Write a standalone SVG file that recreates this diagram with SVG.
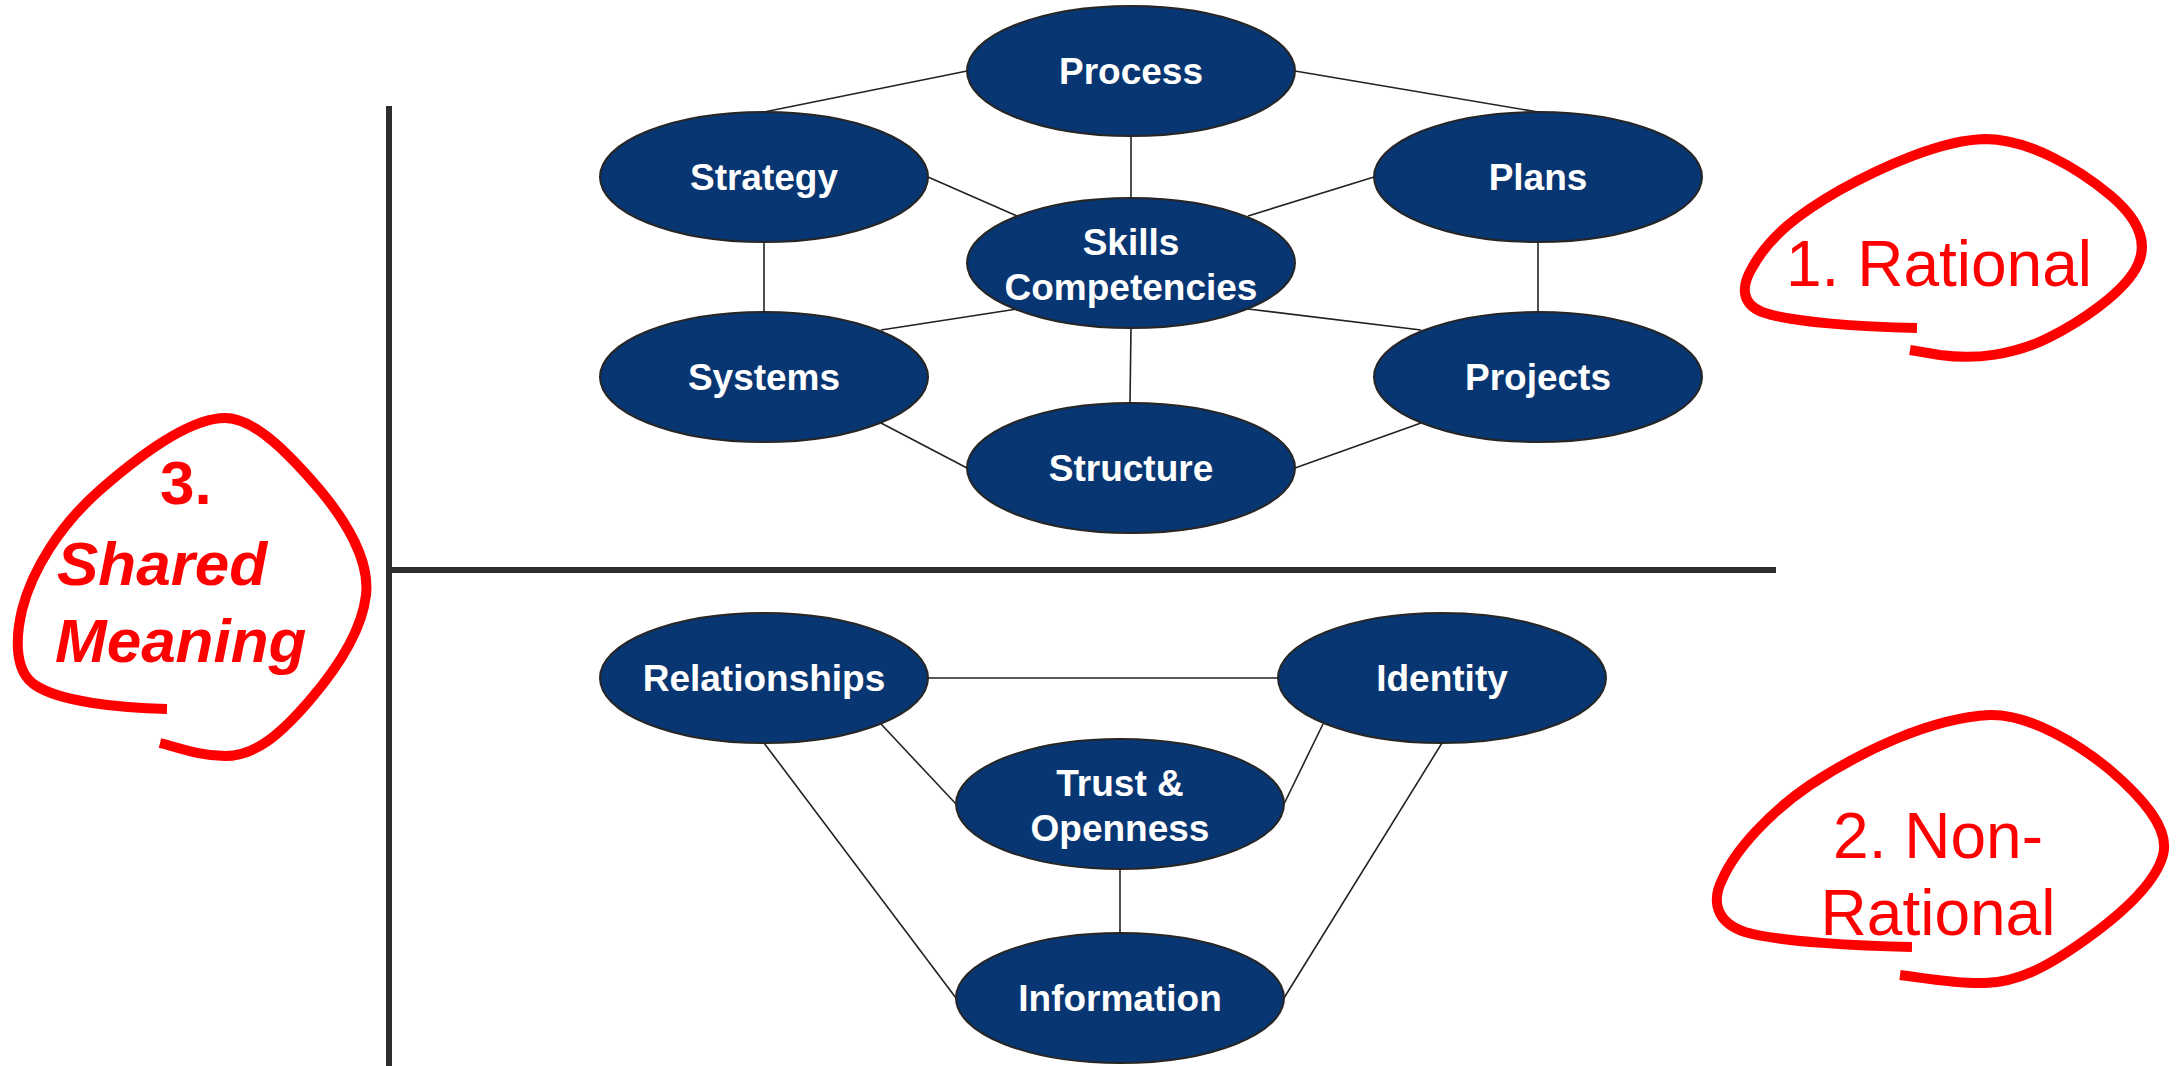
<svg xmlns="http://www.w3.org/2000/svg" width="2182" height="1066" viewBox="0 0 2182 1066">
  <style>
    .node ellipse { fill: #083672; stroke: #262626; stroke-width: 2; }
    .node text { fill: #ffffff; font-family: "Liberation Sans", Arial, sans-serif; font-weight: bold; font-size: 37px; text-anchor: middle; }
    .link { stroke: #222222; stroke-width: 1.6; fill: none; }
    .axis { stroke: #2e2e2e; stroke-width: 6; fill: none; }
    .loop { stroke: #ff0000; stroke-width: 10; fill: none; stroke-linecap: butt; stroke-linejoin: round; }
    .note { fill: #ff0000; font-family: "Liberation Sans", Arial, sans-serif; font-size: 64px; }
    .note-b { fill: #ff0000; font-family: "Liberation Sans", Arial, sans-serif; font-size: 62px; font-weight: bold; }
  </style>

  <rect width="2182" height="1066" fill="#ffffff"/>

  <!-- quadrant axes -->
  <g id="axes">
    <line class="axis" x1="389" y1="106" x2="389" y2="1066"/>
    <line class="axis" x1="389" y1="570" x2="1776" y2="570"/>
  </g>

  <!-- connectors -->
  <g id="connectors">
    <line class="link" x1="967" y1="71" x2="764" y2="112"/>
    <line class="link" x1="1295" y1="71" x2="1538" y2="112"/>
    <line class="link" x1="1131" y1="136" x2="1131" y2="198"/>
    <line class="link" x1="928" y1="177" x2="1017" y2="216"/>
    <line class="link" x1="1374" y1="177" x2="1248" y2="216"/>
    <line class="link" x1="764" y1="242" x2="764" y2="312"/>
    <line class="link" x1="1538" y1="242" x2="1538" y2="312"/>
    <line class="link" x1="1017" y1="309" x2="881" y2="330"/>
    <line class="link" x1="1248" y1="309" x2="1421" y2="330"/>
    <line class="link" x1="1131" y1="328" x2="1130" y2="403"/>
    <line class="link" x1="881" y1="423" x2="967" y2="468"/>
    <line class="link" x1="1421" y1="423" x2="1295" y2="468"/>
    <line class="link" x1="928" y1="678" x2="1278" y2="678"/>
    <line class="link" x1="881" y1="724" x2="956" y2="804"/>
    <line class="link" x1="1323" y1="724" x2="1284" y2="804"/>
    <line class="link" x1="764" y1="743" x2="956" y2="998"/>
    <line class="link" x1="1442" y1="743" x2="1284" y2="998"/>
    <line class="link" x1="1120" y1="869" x2="1120" y2="933"/>
  </g>

  <!-- rational cluster -->
  <g id="process" class="node"><ellipse cx="1131" cy="71" rx="164" ry="65"/><text x="1131" y="84">Process</text></g>
  <g id="strategy" class="node"><ellipse cx="764" cy="177" rx="164" ry="65"/><text x="764" y="190">Strategy</text></g>
  <g id="plans" class="node"><ellipse cx="1538" cy="177" rx="164" ry="65"/><text x="1538" y="190">Plans</text></g>
  <g id="skills" class="node"><ellipse cx="1131" cy="263" rx="164" ry="65"/><text x="1131" y="255">Skills</text><text x="1131" y="300">Competencies</text></g>
  <g id="systems" class="node"><ellipse cx="764" cy="377" rx="164" ry="65"/><text x="764" y="390">Systems</text></g>
  <g id="projects" class="node"><ellipse cx="1538" cy="377" rx="164" ry="65"/><text x="1538" y="390">Projects</text></g>
  <g id="structure" class="node"><ellipse cx="1131" cy="468" rx="164" ry="65"/><text x="1131" y="481">Structure</text></g>

  <!-- non-rational cluster -->
  <g id="relationships" class="node"><ellipse cx="764" cy="678" rx="164" ry="65"/><text x="764" y="691">Relationships</text></g>
  <g id="identity" class="node"><ellipse cx="1442" cy="678" rx="164" ry="65"/><text x="1442" y="691">Identity</text></g>
  <g id="trust" class="node"><ellipse cx="1120" cy="804" rx="164" ry="65"/><text x="1120" y="796">Trust &amp;</text><text x="1120" y="841">Openness</text></g>
  <g id="information" class="node"><ellipse cx="1120" cy="998" rx="164" ry="65"/><text x="1120" y="1011">Information</text></g>

  <!-- hand-drawn annotations -->
  <g id="note-rational">
    <path class="loop" d="M1917,328 C1860,327 1790,322 1762,312 C1740,303 1742,285 1752,268 C1770,235 1800,213 1840,190 C1880,168 1940,140 1985,139 C2030,139 2080,170 2110,195 C2140,220 2150,245 2135,270 C2120,295 2080,322 2050,337 C2015,355 1975,360 1940,355 L1910,350"/>
    <text class="note" x="1786" y="286">1. Rational</text>
  </g>
  <g id="note-nonrational">
    <path class="loop" d="M1912,947 C1860,946 1780,942 1745,932 C1715,922 1712,900 1722,880 C1735,850 1770,812 1810,785 C1860,752 1930,718 1990,715 C2030,714 2080,745 2110,770 C2145,800 2170,830 2163,855 C2155,885 2120,915 2085,940 C2050,965 2020,982 1985,983 C1955,984 1925,978 1900,975"/>
    <text class="note" x="1938" y="858" text-anchor="middle" font-size="65">2. Non-</text>
    <text class="note" x="1938" y="935" text-anchor="middle" font-size="65">Rational</text>
  </g>
  <g id="note-shared">
    <path class="loop" d="M167,709 C120,708 60,702 35,685 C15,672 15,640 22,610 C32,570 60,525 100,490 C140,455 190,418 225,418 C255,418 290,455 320,490 C345,520 370,560 366,595 C362,630 340,665 310,700 C280,735 255,756 225,756 C200,756 180,748 160,743"/>
    <text class="note-b" x="160" y="504">3.</text>
    <text class="note-b" x="57" y="585" font-style="italic">Shared</text>
    <text class="note-b" x="55" y="662" font-style="italic">Meaning</text>
  </g>
</svg>
